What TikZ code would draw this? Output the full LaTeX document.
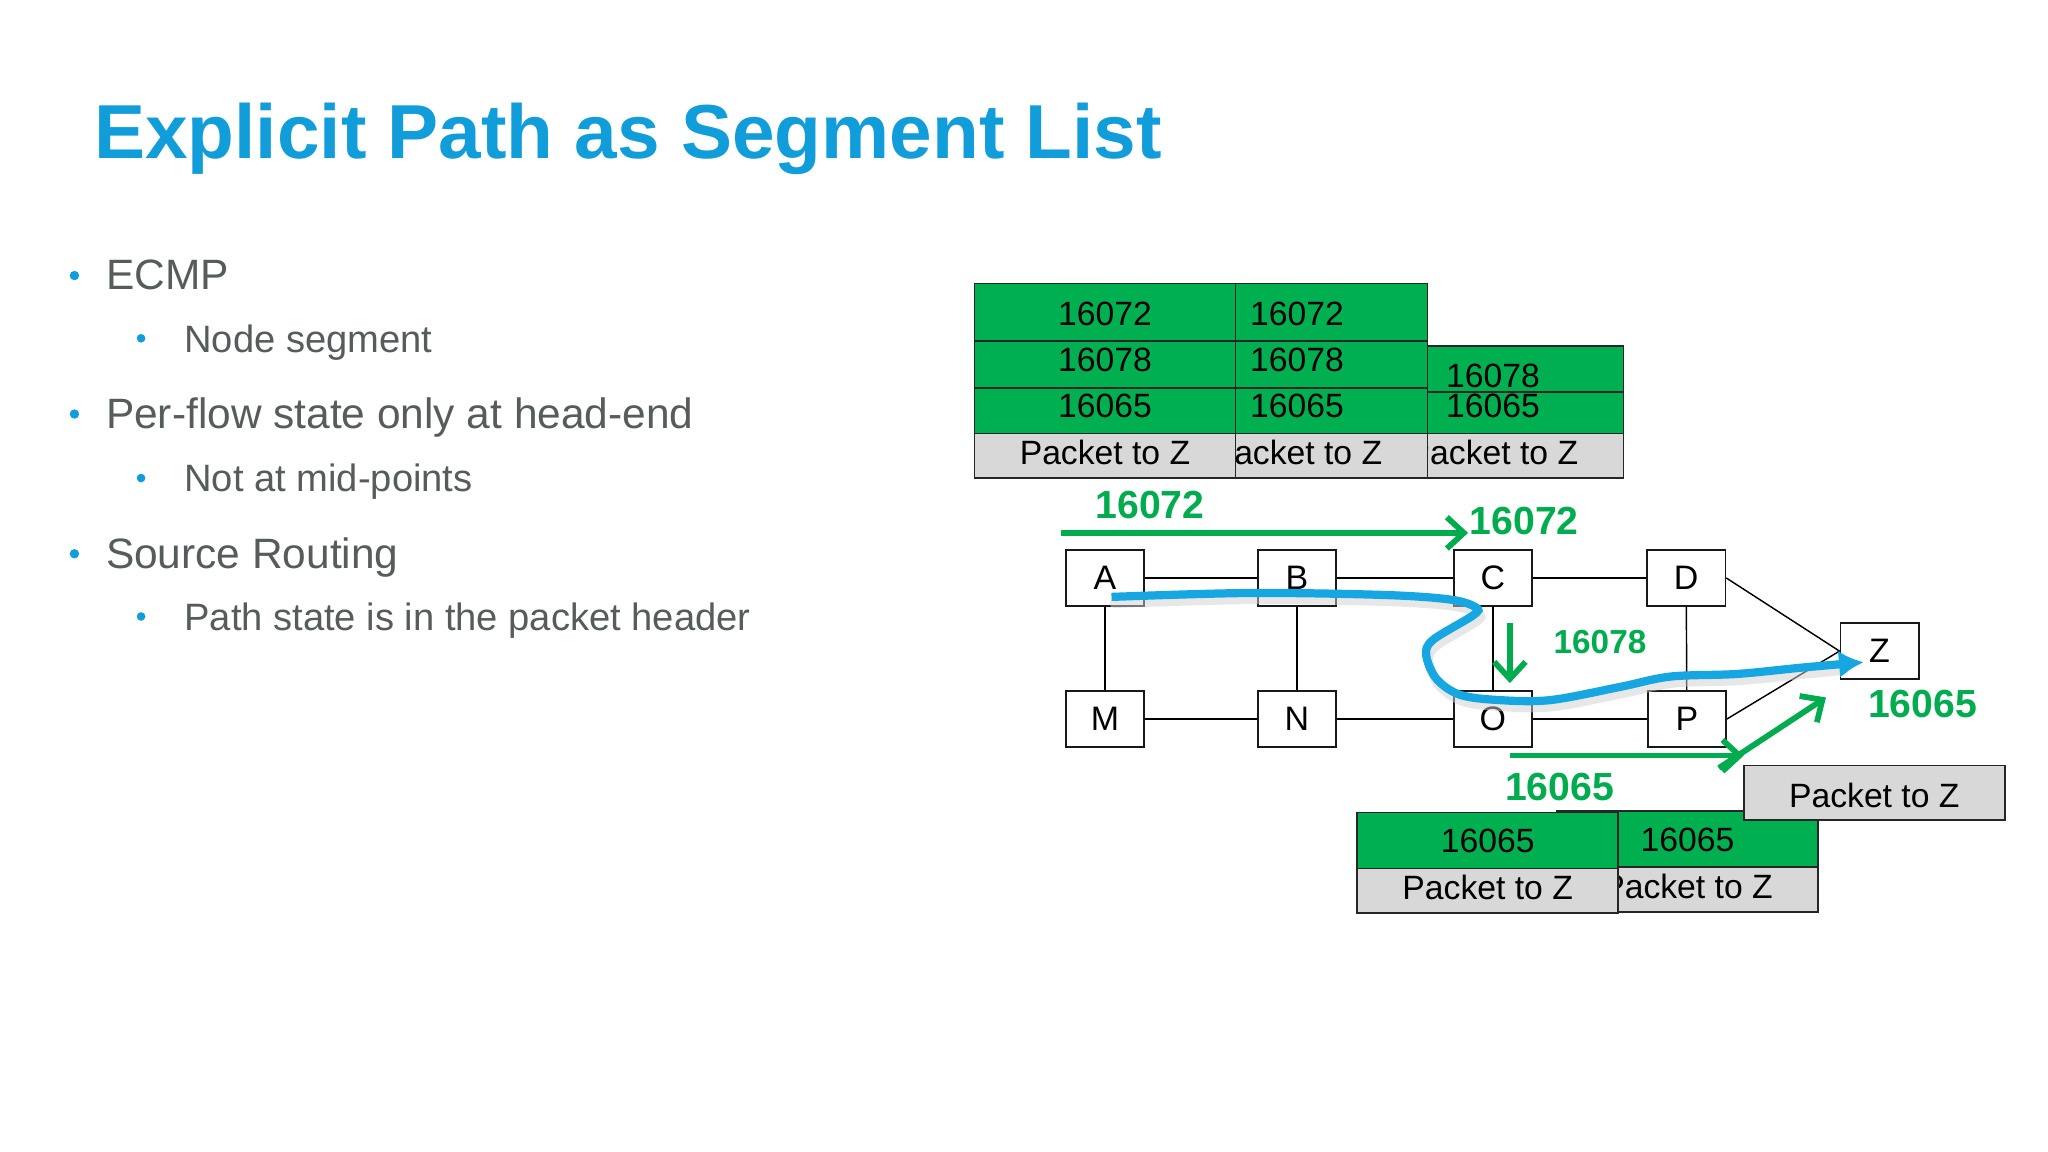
\documentclass[tikz,border=0pt]{standalone}
\usepackage{fontspec}
\setmainfont{Liberation Sans}
\usetikzlibrary{arrows.meta}
\definecolor{titleblue}{RGB}{16,157,217}
\definecolor{txtgray}{RGB}{86,92,92}
\definecolor{pktgreen}{RGB}{0,176,80}
\definecolor{pktgray}{RGB}{216,216,216}
\definecolor{pathblue}{RGB}{22,167,226}
\definecolor{lblgreen}{RGB}{0,172,78}
\newcommand\fsz[1]{\fontsize{#1}{#1}\selectfont}
\begin{document}
\begin{tikzpicture}[x=1pt,y=-1pt,
  netnode/.style={draw=black!90, line width=1.3pt, minimum width=60pt, minimum height=43pt, inner sep=0pt, font=\fsz{26}, fill=white},
  link/.style={line width=1.1pt, draw=black},
  cellg/.style={fill=pktgreen, draw=black!85, line width=1.3pt},
  cellw/.style={fill=pktgray, draw=black!85, line width=1.3pt},
  celltxt/.style={anchor=base, font=\fsz{25.8}, inner sep=0pt, text=black},
  garrow/.style={draw=lblgreen, line width=4.4pt, -{Straight Barb[length=13pt,width=24pt]}},
  glabel/.style={anchor=base, text=lblgreen, font=\bfseries\fsz{30}, inner sep=0pt},
  toptxt/.style={anchor=base west, text=txtgray, font=\fsz{32.5}, inner sep=0pt},
  subtxt/.style={anchor=base west, text=txtgray, font=\fsz{29.2}, inner sep=0pt}]
\useasboundingbox (0,0) rectangle (1568,882);
\fill[white] (0,0) rectangle (1568,882);

% title
\node[anchor=base west, inner sep=0pt, text=titleblue, font=\bfseries\fsz{58.6}] (title) at (72,121) {Explicit Path as Segment List};

% bullets
\fill[titleblue] (57,211) circle (3.6);
\node[toptxt] (b1) at (81,222) {ECMP};
\fill[titleblue] (108,259) circle (3.3);
\node[subtxt] (b1a) at (141,270) {Node segment};
\fill[titleblue] (57,317) circle (3.6);
\node[toptxt] (b2) at (81,328) {Per-flow state only at head-end};
\fill[titleblue] (108,366) circle (3.3);
\node[subtxt] (b2a) at (141,376.5) {Not at mid-points};
\fill[titleblue] (57,424) circle (3.6);
\node[toptxt] (b3) at (81,435) {Source Routing};
\fill[titleblue] (108,472) circle (3.3);
\node[subtxt] (b3a) at (141,483) {Path state is in the packet header};

% top packet stacks (back to front)
\filldraw[cellg] (1043,265) rectangle (1243,300);
\filldraw[cellg] (1043,300) rectangle (1243,332);
\filldraw[cellw] (1043,332) rectangle (1243,366);
\node[celltxt] (s3a) at (1143,297) {16078};
\node[celltxt] (s3b) at (1143,320) {16065};
\node[celltxt] (s3c) at (1143,356) {Packet to Z};

\filldraw[cellg] (893,217) rectangle (1093,261);
\filldraw[cellg] (893,261) rectangle (1093,297);
\filldraw[cellg] (893,297) rectangle (1093,332);
\filldraw[cellw] (893,332) rectangle (1093,366);
\node[celltxt] (s2a) at (993,249) {16072};
\node[celltxt] (s2b) at (993,284.5) {16078};
\node[celltxt] (s2c) at (993,320) {16065};
\node[celltxt] (s2d) at (993,356) {Packet to Z};

\filldraw[cellg] (746,217) rectangle (946,261);
\filldraw[cellg] (746,261) rectangle (946,297);
\filldraw[cellg] (746,297) rectangle (946,332);
\filldraw[cellw] (746,332) rectangle (946,366);
\node[celltxt] (s1a) at (846,249) {16072};
\node[celltxt] (s1b) at (846,284.5) {16078};
\node[celltxt] (s1c) at (846,320) {16065};
\node[celltxt] (s1d) at (846,356) {Packet to Z};

% network nodes
\node[netnode] (A) at (846,442.5) {A};
\node[netnode] (B) at (993,442.5) {B};
\node[netnode] (C) at (1143,442.5) {C};
\node[netnode] (D) at (1291,442.5) {D};
\node[netnode] (Z) at (1439,498.5) {Z};
\node[netnode] (M) at (846,550.5) {M};
\node[netnode] (N) at (993,550.5) {N};
\node[netnode] (O) at (1143,550.5) {O};
\node[netnode] (P) at (1291.5,550.5) {P};

\draw[link] (A) -- (B);
\draw[link] (B) -- (C);
\draw[link] (C) -- (D);
\draw[link] (A) -- (M);
\draw[link] (B) -- (N);
\draw[link] (C) -- (O);
\draw[link] (D) -- (P);
\draw[link] (M) -- (N);
\draw[link] (N) -- (O);
\draw[link] (O) -- (P);
\draw[link] (D.east) -- (Z.west);
\draw[link] (P.east) -- (Z.west);

% green arrows and labels
\coordinate (g1s) at (812,408);
\coordinate (g1e) at (1124,408);
\draw[garrow] (g1s) -- (g1e);
\node[glabel] (l1) at (880.5,397) {16072};
\node[glabel] (l2) at (1167,409.5) {16072};

\coordinate (g2s) at (1156,477);
\coordinate (g2e) at (1156,523);
\draw[garrow] (g2s) -- (g2e);
\node[glabel, font=\bfseries\fsz{25.5}] (l3) at (1225,500) {16078};

\coordinate (g3s) at (1156,578.5);
\coordinate (g3e) at (1335,578.5);
\draw[garrow] (g3s) -- (g3e);
\coordinate (g4s) at (1316,588);
\coordinate (g4e) at (1398,534);
\draw[garrow] (g4s) -- (g4e);
\node[glabel] (l4) at (1472,549) {16065};
\node[glabel] (l5) at (1194,613) {16065};

% blue path
\draw[black!18, line width=7pt, line cap=round, opacity=0.5, shift={(2,5)}]
  plot[smooth, tension=0.55] coordinates {(851,457) (957,454) (1059,455.5) (1110,459) (1130,465) (1128,471) (1097,490) (1092,502) (1100,520) (1118,532) (1148,536) (1187,536) (1240,526) (1279,518) (1330,516) (1381,511) (1410,508)};
\draw[pathblue, line width=6.3pt, -{Latex[length=19pt,width=21pt]}]
  plot[smooth, tension=0.55] coordinates {(851,457) (957,454) (1059,455.5) (1110,459) (1130,465) (1128,471) (1097,490) (1092,502) (1100,520) (1118,532) (1148,536) (1187,536) (1240,526) (1279,518) (1330,516) (1381,511) (1427,507)};

% bottom packet stacks
\filldraw[cellg] (1192,621) rectangle (1392,664);
\filldraw[cellw] (1192,664) rectangle (1392,698);
\node[celltxt] (t2a) at (1292,652) {16065};
\node[celltxt] (t2b) at (1292,688) {Packet to Z};

\filldraw[cellg] (1039,622) rectangle (1239,665);
\filldraw[cellw] (1039,665) rectangle (1239,699);
\node[celltxt] (t1a) at (1139,653) {16065};
\node[celltxt] (t1b) at (1139,689) {Packet to Z};

\filldraw[cellw] (1335,586) rectangle (1535,628);
\node[celltxt] (t3) at (1435,618) {Packet to Z};
\end{tikzpicture}
\end{document}
